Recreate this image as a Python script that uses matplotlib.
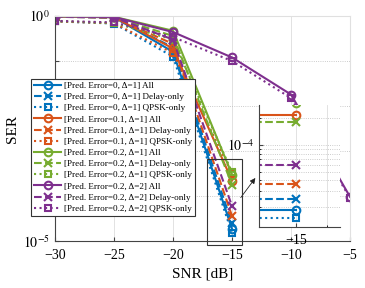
import numpy as np
import matplotlib
matplotlib.use('Agg')
from matplotlib import pyplot as plt
from matplotlib.patches import Rectangle

plt.rcParams['font.family'] = ['Liberation Serif', 'DejaVu Serif']
plt.rcParams['mathtext.fontset'] = 'stix'

# SNR points
snr = [-30, -25, -20, -15, -10, -5]
snr4 = snr[:4]

# Pred. Error=0, Delta=1
e0_all = [0.97, 0.94, 0.16, 1.86e-5]
e0_delay = [0.96, 0.92, 0.20, 2.45e-5]
e0_qpsk = [0.76, 0.68, 0.125, 1.5e-5]
# Pred. Error=0.1, Delta=1
e1_all = [0.97, 0.94, 0.19, 2.2e-4]
e1_delay = [0.96, 0.92, 0.24, 3.6e-5]
e1_qpsk = [0.76, 0.69, 0.15, 3.2e-4]
# Pred. Error=0.2, Delta=1
e2_all = [0.98, 0.96, 0.47, 3.0e-4]
e2_delay = [0.97, 0.93, 0.36, 1.8e-4]
e2_qpsk = [0.77, 0.70, 0.30, 3.4e-4]
# Pred. Error=0.2, Delta=2
d2_all = [0.99, 0.95, 0.44, 0.12, 0.018, 9.6e-5]
d2_delay = [0.97, 0.93, 0.30, 6.0e-5]
d2_qpsk = [0.78, 0.72, 0.34, 0.10, 0.015, 9.0e-5]

colors = ['#0072BD', '#D95319', '#77AC30', '#7E2F8E']
labels_err = ['[Pred. Error=0, Δ=1]', '[Pred. Error=0.1, Δ=1]',
              '[Pred. Error=0.2, Δ=1]', '[Pred. Error=0.2, Δ=2]']
groups = [
    (snr4, e0_all, snr4, e0_delay, snr4, e0_qpsk),
    (snr4, e1_all, snr4, e1_delay, snr4, e1_qpsk),
    (snr4, e2_all, snr4, e2_delay, snr4, e2_qpsk),
    (snr, d2_all, snr4, d2_delay, snr, d2_qpsk),
]
styles = [('-', 'o', ' All'), ('--', 'x', ' Delay-only'), (':', 's', ' QPSK-only')]
ms = 5.5
lw = 1.5

fig = plt.figure(figsize=(3.65, 2.88), dpi=100)
ax = fig.add_axes([55 / 365, 1 - 241 / 288, 295 / 365, 225 / 288])
for c, lab, g in zip(colors, labels_err, groups):
    for k, (ls, mk, name) in enumerate(styles):
        ax.plot(g[2 * k], g[2 * k + 1], ls=ls, marker=mk, color=c, lw=lw,
                ms=ms if mk != 's' else ms - 0.5, mfc='none', mew=lw,
                label=lab + name)
ax.set_yscale('log')
ax.set_xlim(-30, -5)
ax.set_ylim(1e-5, 1)
ax.set_xticks([-30, -25, -20, -15, -10, -5])
ax.set_yticks([1e-5, 1e-4, 1e-3, 1e-2, 1e-1, 1])
ax.set_yticklabels(['$10^{-5}$', '', '', '', '', '$10^{0}$'])
ax.minorticks_off()
ax.tick_params(direction='in', labelsize=10, length=3, color='#444444')
ax.tick_params(axis='x', pad=6)
ax.xaxis.grid(True, color='#DDDDDD', lw=0.6)
ax.yaxis.grid(True, color='#BBBBBB', lw=0.6, ls=':')
for s in ['top', 'right']:
    ax.spines[s].set_color('#E0E0E0')
for s in ['left', 'bottom']:
    ax.spines[s].set_color('#444444')
ax.set_xlabel('SNR [dB]', fontsize=11, labelpad=4)
ax.set_ylabel('SER', fontsize=11, labelpad=3)

leg = ax.legend(loc='upper left', bbox_to_anchor=(31 / 365, 1 - 79 / 288),
                bbox_transform=fig.transFigure, fontsize=6.6, handlelength=3.0,
                handletextpad=0.35, labelspacing=0.3, borderpad=0.3,
                borderaxespad=0, fancybox=False, framealpha=1, edgecolor='#333333')
leg.get_frame().set_linewidth(0.8)

# zoom box and arrow
ax.add_patch(Rectangle((-17.1, 10 ** -5.09), 2.95, 10 ** -3.17 - 10 ** -5.09,
                       fill=False, ec='#333333', lw=0.8, clip_on=False, zorder=5))
ax.annotate('', xy=(-12.88, 10 ** -3.55), xytext=(-14.4, 10 ** -4.085),
            arrowprops=dict(arrowstyle='-|>', color='#222222', lw=0.6,
                            mutation_scale=8), annotation_clip=False)

# inset: values at -15 dB, drawn as level lines
ins = fig.add_axes([259 / 365, 1 - 227 / 288, 81 / 365, 122 / 288])
for c, g in zip(colors, groups):
    for k, (ls, mk, name) in enumerate(styles):
        xs, ys = g[2 * k], g[2 * k + 1]
        v = ys[xs.index(-15)]
        ins.plot([-17, -15], [v, v], ls=ls, marker=mk, markevery=[1], color=c,
                 lw=lw, ms=ms if mk != 's' else ms - 0.5, mfc='none', mew=lw)
ins.set_yscale('log')
ins.set_xlim(-16.16, -13.6)
ins.set_ylim(10 ** -4.924, 10 ** -3.55)
ins.set_xticks([-15])
ins.set_xticks([-14], minor=True)
ins.set_yticks([1e-4])
ins.set_yticklabels(['$10^{-4}$'])
ins.tick_params(direction='in', labelsize=10, length=3, color='#444444')
ins.tick_params(axis='x', pad=5)
ins.tick_params(which='minor', direction='in', length=1.5, labelleft=False)
ins.xaxis.grid(True, which='both', color='#DDDDDD', lw=0.6)
ins.yaxis.grid(True, which='both', color='#BBBBBB', lw=0.6, ls=':')
for s in ['top', 'right']:
    ins.spines[s].set_visible(False)
for s in ['left', 'bottom']:
    ins.spines[s].set_color('#444444')

fig.savefig('out.png', dpi=100)
